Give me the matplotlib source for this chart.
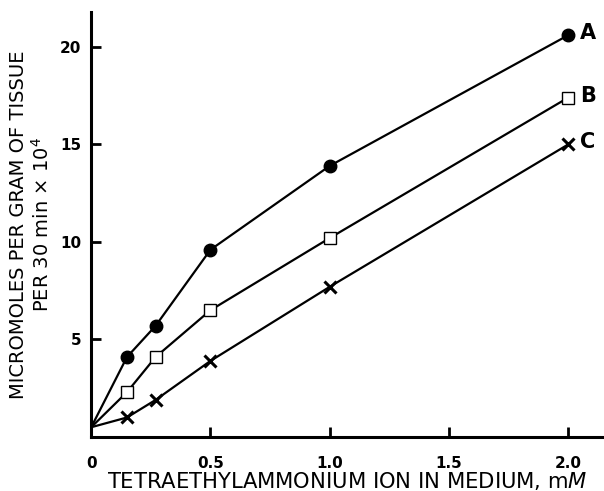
import matplotlib.pyplot as plt

plt.rcParams['font.family'] = ['DejaVu Sans']

# TEA concentration (mM); first point is where all curves start
conc = [0.0, 0.15, 0.27, 0.5, 1.0, 2.0]

uptake_A = [0.5, 4.1, 5.7, 9.6, 13.9, 20.6]
uptake_B = [0.5, 2.3, 4.1, 6.5, 10.2, 17.4]
uptake_C = [0.5, 1.0, 1.9, 3.9, 7.7, 15.0]

xticks = [0, 0.5, 1.0, 1.5, 2.0]
xticklabels = ["0", "0.5", "1.0", "1.5", "2.0"]
yticks = [5, 10, 15, 20]

fig = plt.figure(figsize=(6.04, 4.91), dpi=100)
ax = fig.add_axes([0.151, 0.110, 0.849, 0.866])

# curves
ax.plot(conc, uptake_A, color='black', lw=1.6, zorder=2)
ax.plot(conc, uptake_B, color='black', lw=1.6, zorder=2)
ax.plot(conc, uptake_C, color='black', lw=1.6, zorder=2)

# markers
ax.plot(conc[1:], uptake_A[1:], 'o', ms=9, mfc='black', mec='black', ls='none', zorder=3)
ax.plot(conc[1:], uptake_B[1:], 's', ms=9, mfc='white', mec='black', mew=1.0, ls='none', zorder=3)
ax.plot(conc[1:], uptake_C[1:], 'x', ms=8, mec='black', mew=2.2, ls='none', zorder=3)

# curve letters
ax.text(conc[-1] + 0.05, uptake_A[-1] + 0.1, "A", fontsize=15, fontweight='bold', va='center', ha='left')
ax.text(conc[-1] + 0.05, uptake_B[-1] + 0.1, "B", fontsize=15, fontweight='bold', va='center', ha='left')
ax.text(conc[-1] + 0.05, uptake_C[-1] + 0.1, "C", fontsize=15, fontweight='bold', va='center', ha='left')

ax.set_xlim(0, 2.15)
ax.set_ylim(0, 21.8)
ax.set_xticks(xticks)
ax.set_xticklabels(xticklabels)
ax.set_yticks(yticks)

for side in ['top', 'right']:
    ax.spines[side].set_visible(False)
for side in ['left', 'bottom']:
    ax.spines[side].set_linewidth(2.2)

ax.tick_params(direction='in', length=7, width=2, labelsize=11)
ax.tick_params(axis='x', pad=14)
ax.tick_params(axis='y', pad=7)
for lbl in ax.get_xticklabels() + ax.get_yticklabels():
    lbl.set_fontweight('bold')

ax.set_xlabel("TETRAETHYLAMMONIUM ION IN MEDIUM, m$\\it{M}$", fontsize=15.2, labelpad=-1)
ax.set_ylabel("MICROMOLES PER GRAM OF TISSUE\nPER 30 min $\\times$ 10$^4$", fontsize=14,
              labelpad=5, linespacing=1.2)

fig.savefig("out.png", dpi=100)
